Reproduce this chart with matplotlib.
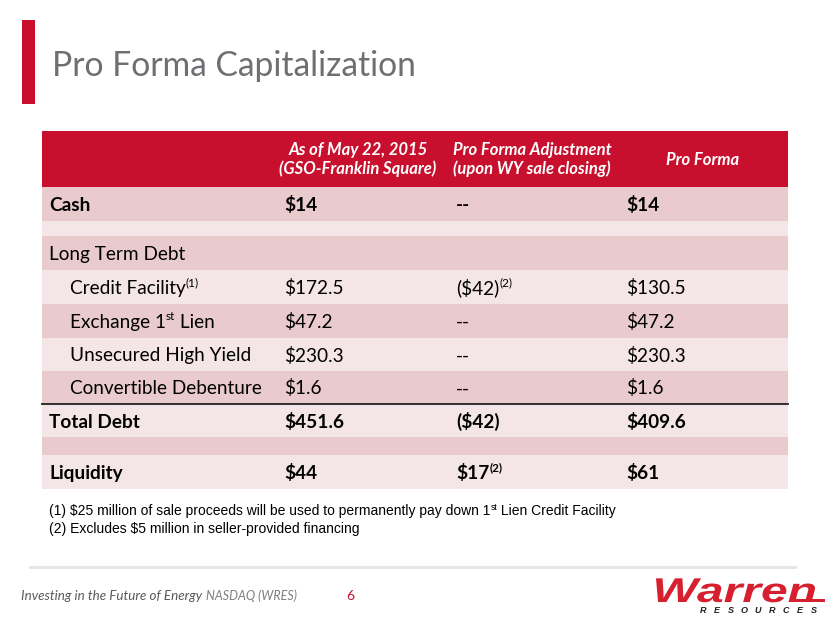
import matplotlib.pyplot as plt
from matplotlib.font_manager import FontProperties
from matplotlib.patches import PathPatch, Rectangle
from matplotlib.textpath import TextPath
from matplotlib.transforms import Affine2D

W, H = 830, 623
RED = "#C8102E"
LOGO_RED = "#D6202F"
DARK_ROW = "#E9CBCD"
LIGHT_ROW = "#F4E5E6"
TITLE_GREY = "#6D6F72"
BODY = "Lato"

# ---- data ----
title = "Pro Forma Capitalization"
col_headers = [
    ("As of May 22, 2015", "(GSO-Franklin Square)"),
    ("Pro Forma Adjustment", "(upon WY sale closing)"),
    ("Pro Forma", ""),
]
row_labels = [
    [("Cash", False)],
    [],
    [("Long Term Debt", False)],
    [("Credit Facility", False), ("(1)", True)],
    [("Exchange 1", False), ("st", True), (" Lien", False)],
    [("Unsecured High Yield", False)],
    [("Convertible Debenture", False)],
    [("Total Debt", False)],
    [],
    [("Liquidity", False)],
]
as_of_values = ["$14", "", "", "$172.5", "$47.2", "$230.3", "$1.6", "$451.6", "", "$44"]
adjustments = [
    [("--", False)],
    [],
    [],
    [("($42)", False), ("(2)", True)],
    [("--", False)],
    [("--", False)],
    [("--", False)],
    [("($42)", False)],
    [],
    [("$17", False), ("(2)", True)],
]
pro_forma_values = ["$14", "", "", "$130.5", "$47.2", "$230.3", "$1.6", "$409.6", "", "$61"]
bold_rows = [0, 7, 9]
indented_rows = [3, 4, 5, 6]
footnotes = [
    [("(1) $25 million of sale proceeds will be used to permanently pay down 1", False),
     ("st", True), (" Lien Credit Facility", False)],
    [("(2) Excludes $5 million in seller-provided financing", False)],
]
footer_tagline = "Investing in the Future of Energy"
footer_ticker = "NASDAQ (WRES)"
page_number = "6"

# ---- layout ----
table_left, table_right = 42, 788
header_top, header_bottom = 131, 187
row_edges = [187, 221, 236, 270, 304, 338, 371, 404, 437, 455, 489]
label_x, indent_x = 49, 70
col_x = [284, 456, 626]
header_cx = [358, 532, 703]
body_size = 13.7

fig = plt.figure(figsize=(W / 100, H / 100), dpi=100)
fig.patch.set_facecolor("white")
ax = fig.add_axes([0, 0, 1, 1])
ax.set_xlim(0, W)
ax.set_ylim(H, 0)
ax.axis("off")
renderer = fig.canvas.get_renderer()


def draw_runs(x, y, runs, size, family=BODY, **kw):
    """Draw text pieces one after another, superscripts smaller and raised."""
    for text, sup in runs:
        fs = size * 0.62 if sup else size
        yy = y - size * 0.55 if sup else y
        t = ax.text(x, yy, text, fontsize=fs, family=family, va="baseline", ha="left", **kw)
        x += t.get_window_extent(renderer).width
    return x


# title bar
ax.add_patch(Rectangle((22, 20), 13, 84, color=RED, lw=0))
ax.text(52, 66, title, fontsize=24.2, family=BODY, color=TITLE_GREY, va="center", ha="left")

# header
ax.add_patch(Rectangle((table_left, header_top), table_right - table_left,
                       header_bottom - header_top, color=RED, lw=0))
hdr = dict(fontsize=12, family=BODY, style="italic", weight="bold", color="white",
           ha="center", va="center")
for cx, (l1, l2) in zip(header_cx, col_headers):
    if l2:
        ax.text(cx, 150, l1, **hdr)
        ax.text(cx, 169, l2, **hdr)
    else:
        ax.text(cx, 160, l1, **hdr)

# rows
for i in range(len(row_labels)):
    top, bottom = row_edges[i], row_edges[i + 1]
    ax.add_patch(Rectangle((table_left, top), table_right - table_left, bottom - top,
                           color=DARK_ROW if i % 2 == 0 else LIGHT_ROW, lw=0))
    base = (top + bottom) / 2 + 7
    weight = "bold" if i in bold_rows else "normal"
    x0 = indent_x if i in indented_rows else label_x
    draw_runs(x0, base, row_labels[i], body_size, weight=weight, color="black")
    ax.text(col_x[0], base, as_of_values[i], fontsize=body_size, family=BODY,
            weight=weight, color="black", va="baseline")
    draw_runs(col_x[1], base, adjustments[i], body_size, weight=weight, color="black")
    ax.text(col_x[2], base, pro_forma_values[i], fontsize=body_size, family=BODY,
            weight=weight, color="black", va="baseline")

ax.plot([table_left, table_right], [row_edges[7], row_edges[7]], color="#222222", lw=1.3)

# footnotes
for k, runs in enumerate(footnotes):
    draw_runs(49, 515 + k * 18, runs, 10, family="Liberation Sans", color="black")

# footer
ax.plot([30, 795], [567, 567], color="#E4E4E4", lw=2)
t = ax.text(21, 600, footer_tagline, fontsize=9.6, family=BODY, style="italic",
            color="#595959", va="baseline")
ax.text(21 + t.get_window_extent(renderer).width + 4, 600, footer_ticker, fontsize=9,
        family=BODY, style="italic", color="#7F7F7F", va="baseline")
ax.text(350, 600, page_number, fontsize=10, family=BODY, color=RED, va="baseline", ha="center")

# logo
prop = FontProperties(family="Liberation Sans", weight="bold", style="italic")
tp = TextPath((0, 0), "Warren", size=1, prop=prop)
ext = tp.get_extents()
sx = (815 - 656) / ext.width
sy = 24 / ext.height
tr = Affine2D().translate(-ext.x0, 0).scale(sx, -sy).translate(656, 602) + ax.transData
ax.add_patch(PathPatch(tp, color=LOGO_RED, lw=0, transform=tr))
ax.add_patch(Rectangle((795, 599), 30, 3, color=LOGO_RED, lw=0))
for j, ch in enumerate("RESOURCES"):
    ax.text(703 + j * 13.8, 613, ch, fontsize=6.5, family="Liberation Sans", weight="bold",
            style="italic", color="#231F20", ha="center", va="baseline")

fig.savefig("out.png", dpi=100, facecolor="white")
